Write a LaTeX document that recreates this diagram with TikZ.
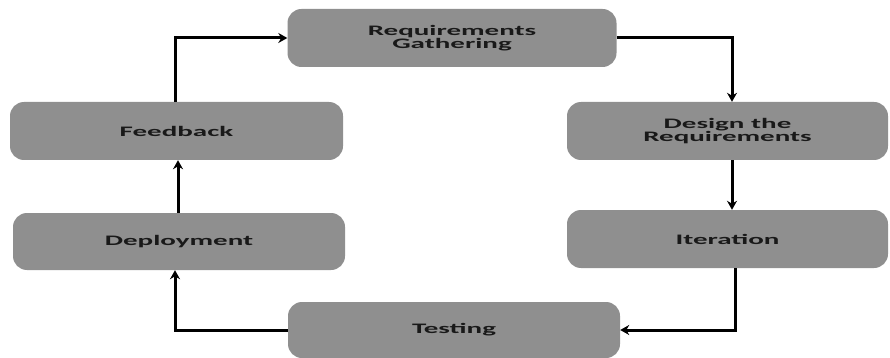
\documentclass[tikz,border=0pt]{standalone}
\usepackage{fontspec}
\setmainfont{Carlito}
\usetikzlibrary{arrows.meta}
\newcommand{\wide}[1]{\scalebox{2.0}[1]{#1}}
\begin{document}
\begin{tikzpicture}[x=1pt,y=-1pt,
  stage/.style={draw=none, fill=stagegray, rounded corners=14pt, inner sep=0pt,
    font=\bfseries\fontsize{14.5}{13.5}\selectfont, align=center, text=black!90},
  flow/.style={line width=3pt, -{Stealth[length=9pt,width=10pt]}},
]
\definecolor{stagegray}{HTML}{8F8F8F}
\useasboundingbox (0,0) rectangle (890,358);
% stage boxes
\node[stage, minimum width=329pt, minimum height=58pt] (req) at (452,38)
  {\wide{Requirements}\\\wide{Gathering}};
\node[stage, minimum width=321pt, minimum height=58pt] (des) at (727.5,131)
  {\wide{Design the}\\\wide{Requirements}};
\node[stage, minimum width=321pt, minimum height=58pt] (ite) at (727.5,239)
  {\wide{Iteration}};
\node[stage, minimum width=332pt, minimum height=56pt] (tes) at (454,330)
  {\wide{Testing}};
\node[stage, minimum width=332pt, minimum height=57pt] (dep) at (179,241.5)
  {\wide{Deployment}};
\node[stage, minimum width=333pt, minimum height=58pt] (fee) at (176.5,131)
  {\wide{Feedback}};
% cycle connectors
\coordinate (c1) at (175,38);
\coordinate (c2) at (732,38);
\coordinate (c3) at (735,330);
\coordinate (c4) at (175,330);
\draw[flow] (fee.north -| c1) -- (c1) -- (req.west);
\draw[flow] (req.east) -- (c2) -- (des.north -| c2);
\draw[flow] (des.south -| c2) -- (ite.north -| c2);
\draw[flow] (ite.south -| c3) -- (c3) -- (tes.east);
\draw[flow] (tes.west) -- (c4) -- (dep.south -| c4);
\draw[flow] (dep.north -| 178,0) -- (fee.south -| 178,0);
\end{tikzpicture}
\end{document}
